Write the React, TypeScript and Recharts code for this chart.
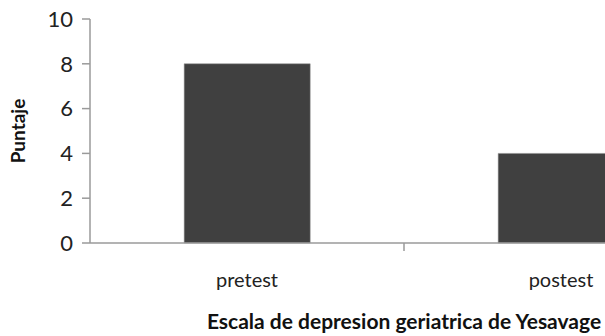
import { BarChart, Bar, XAxis, YAxis, Label } from "recharts";

const categories = ["pretest", "postest"];
const scores = [8, 4];
const yTicks = [0, 2, 4, 6, 8, 10];

const data = categories.map((name, i) => ({ name, score: scores[i] }));

const FONT = "Lato, 'Open Sans', sans-serif";
const AXIS = "#9a9a9a";

function CategoryTick({ x, y, payload }: any) {
  const half = payload?.offset ?? 0;
  return (
    <g>
      <line x1={x + half} y1={y - 8} x2={x + half} y2={y} stroke={AXIS} strokeWidth={1.5} />
      <text x={x} y={y + 36} textAnchor="middle" fill="#222" fontSize={20} fontFamily={FONT}>
        {payload.value}
      </text>
    </g>
  );
}

export default function App() {
  return (
    <div style={{ position: "absolute", left: 0, top: 0, width: 605, height: 336, overflow: "hidden", background: "#fff" }}>
      <BarChart
        width={718}
        height={336}
        data={data}
        margin={{ top: 19, right: 0, left: 0, bottom: 0 }}
        barCategoryGap="30%"
      >
        <XAxis
          dataKey="name"
          height={93}
          tickLine={false}
          axisLine={{ stroke: AXIS, strokeWidth: 1.5 }}
          tick={<CategoryTick />}
          interval={0}
        >
          <Label
            value="Escala de depresion geriatrica de Yesavage"
            position="insideBottom"
            offset={7}
            style={{ fontFamily: FONT, fontSize: 21, fontWeight: 700, fill: "#111" }}
          />
        </XAxis>
        <YAxis
          width={90}
          domain={[0, 10]}
          ticks={yTicks}
          tickSize={8}
          tickMargin={9}
          axisLine={{ stroke: AXIS, strokeWidth: 1.5 }}
          tickLine={{ stroke: AXIS, strokeWidth: 1.5 }}
          tick={{ fill: "#222", fontSize: 22, fontFamily: FONT }}
        >
          <Label
            value="Puntaje"
            angle={-90}
            position="insideLeft"
            offset={18}
            style={{ fontFamily: FONT, fontSize: 19, fontWeight: 700, fill: "#111", textAnchor: "middle" }}
          />
        </YAxis>
        <Bar dataKey="score" fill="#404040" stroke="#8a8a8a" strokeWidth={0.5} isAnimationActive={false} />
      </BarChart>
    </div>
  );
}
